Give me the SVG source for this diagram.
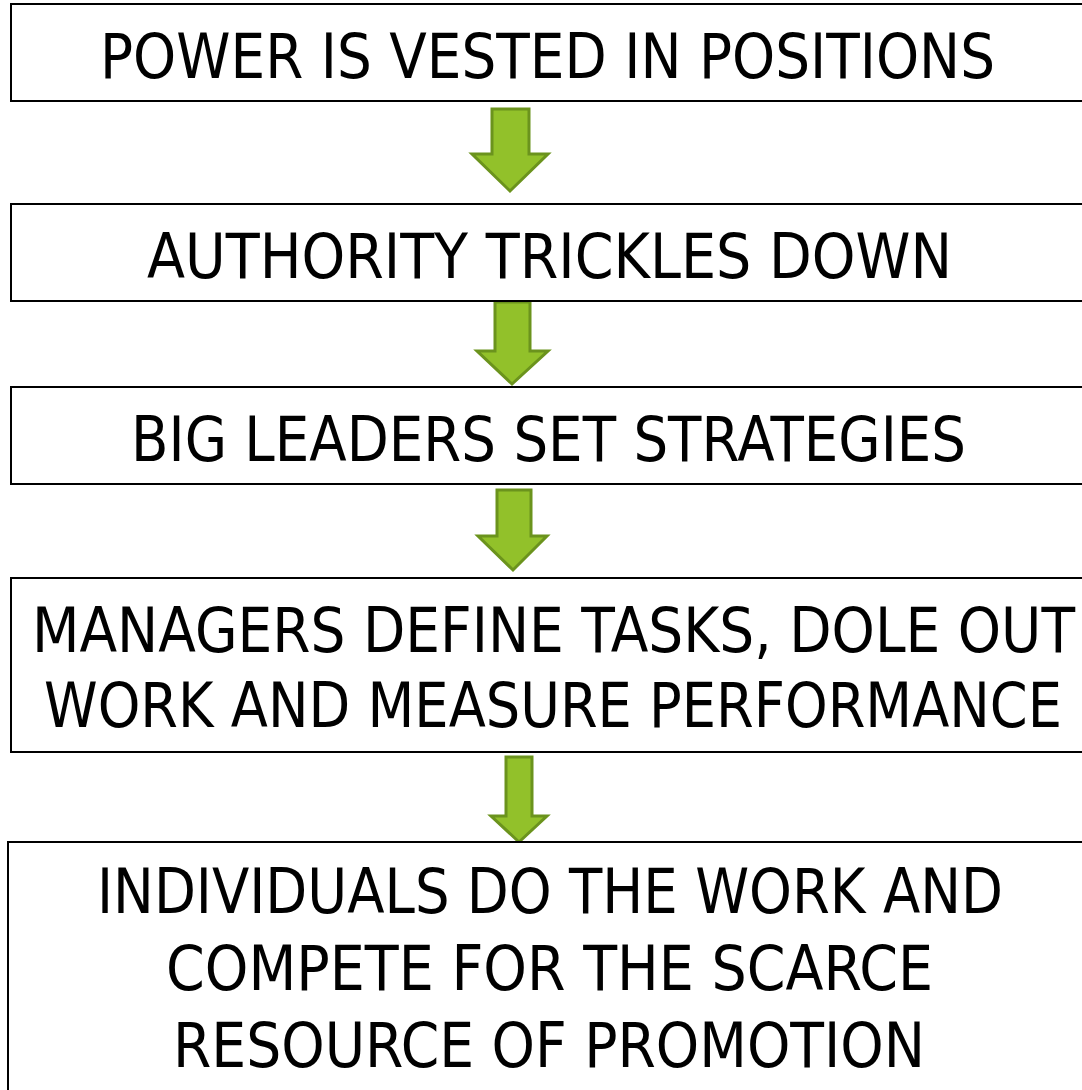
<svg xmlns="http://www.w3.org/2000/svg" width="1082" height="1090" viewBox="0 0 1082 1090">
  <style>
    .box { fill: #ffffff; stroke: #000000; stroke-width: 2; }
    .label { font-family: "DejaVu Sans", "Liberation Sans", sans-serif; font-size: 63px; fill: #000000; text-anchor: middle; }
    .arrow { fill: #92c12a; stroke: #6b931d; stroke-width: 3; stroke-linejoin: miter; }
  </style>
  <rect width="1082" height="1090" fill="#ffffff"/>

  <!-- flow arrows between the stages -->
  <g id="connectors">
    <polygon class="arrow" points="492,109 529,109 529,154 548,154 510,191 472,154 492,154"/>
    <polygon class="arrow" points="495,302 530,302 530,351 548,351 512,384 477,351 495,351"/>
    <polygon class="arrow" points="497,490 531,490 531,536 547,536 513,570 478,536 497,536"/>
    <polygon class="arrow" points="506,757 532,757 532,816 547,816 519,842 491,816 506,816"/>
  </g>

  <!-- stage boxes; right edges sit just past the canvas; labels are narrowed horizontally -->
  <g id="node-power">
    <rect class="box" x="11" y="4" width="1073" height="97"/>
    <text class="label" transform="translate(547.5 78) scale(0.8 1)" textLength="1118.75" lengthAdjust="spacingAndGlyphs">POWER IS VESTED IN POSITIONS</text>
  </g>

  <g id="node-authority">
    <rect class="box" x="11" y="204" width="1073" height="97"/>
    <text class="label" transform="translate(549.5 278) scale(0.8 1)" textLength="1006.25" lengthAdjust="spacingAndGlyphs">AUTHORITY TRICKLES DOWN</text>
  </g>

  <g id="node-leaders">
    <rect class="box" x="11" y="387" width="1073" height="97"/>
    <text class="label" transform="translate(548.5 461) scale(0.8 1)" textLength="1043.75" lengthAdjust="spacingAndGlyphs">BIG LEADERS SET STRATEGIES</text>
  </g>

  <g id="node-managers">
    <rect class="box" x="11" y="578" width="1073" height="174"/>
    <text class="label" transform="translate(553.5 652) scale(0.8 1)" textLength="1303.75" lengthAdjust="spacingAndGlyphs">MANAGERS DEFINE TASKS, DOLE OUT</text>
    <text class="label" transform="translate(553 727) scale(0.8 1)" textLength="1272.5" lengthAdjust="spacingAndGlyphs">WORK AND MEASURE PERFORMANCE</text>
  </g>

  <g id="node-individuals">
    <rect class="box" x="8" y="842" width="1076" height="250"/>
    <text class="label" transform="translate(550 913) scale(0.8 1)" textLength="1132.5" lengthAdjust="spacingAndGlyphs">INDIVIDUALS DO THE WORK AND</text>
    <text class="label" transform="translate(549.5 990) scale(0.8 1)" textLength="958.75" lengthAdjust="spacingAndGlyphs">COMPETE FOR THE SCARCE</text>
    <text class="label" transform="translate(549 1067) scale(0.8 1)" textLength="940" lengthAdjust="spacingAndGlyphs">RESOURCE OF PROMOTION</text>
  </g>
</svg>
